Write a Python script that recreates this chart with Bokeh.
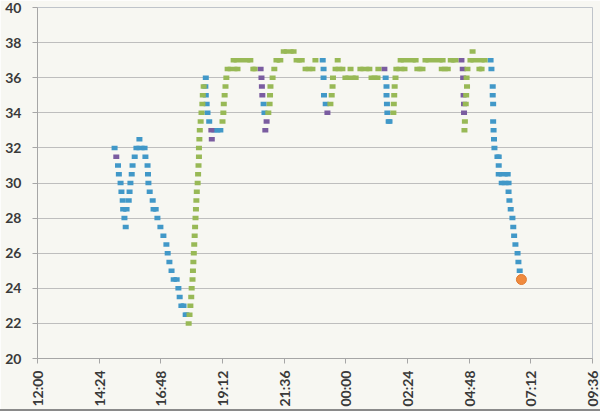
import math
from bokeh.plotting import figure
from bokeh.models import Range1d, FixedTicker, ColumnDataSource
from bokeh.embed import file_html
from bokeh.resources import INLINE

# ---------------- data ----------------
y_ticks = [20, 22, 24, 26, 28, 30, 32, 34, 36, 38, 40]
x_tick_labels = ["12:00", "14:24", "16:48", "19:12", "21:36",
                 "00:00", "02:24", "04:48", "07:12", "09:36"]

# blue series: readings (a run = same value from start to end)
blue_start = ["15:00", "15:08", "15:10", "15:14", "15:16", "15:19", "15:20", "15:23", "15:26",
              "15:33", "15:35", "15:37", "15:40", "15:42", "15:47", "15:51", "15:58",
              "16:12", "16:17", "16:18", "16:19", "16:22", "16:29", "16:31", "16:40", "16:47",
              "16:54", "17:01", "17:04", "17:08", "17:13", "17:18", "17:29", "17:32", "17:36",
              "17:46",
              "18:33", "18:32", "18:33", "18:35", "18:37", "18:41", "18:53",
              "20:48", "20:50",
              "23:06", "23:08", "23:08", "23:09", "23:13",
              "01:33", "01:35", "01:35", "01:36", "01:37", "01:40",
              "05:38", "05:40", "05:43", "05:43", "05:44", "05:44", "05:45", "05:46", "05:47",
              "05:54", "05:57", "05:57", "06:04", "06:20", "06:22", "06:25", "06:29", "06:31",
              "06:33", "06:36", "06:41", "06:43", "06:46"]
blue_end = ["15:00", "15:08", "15:10", "15:14", "15:16", "15:19", "15:28", "15:23", "15:26",
            "15:33", "15:35", "15:37", "15:40", "15:42", "15:47", "16:10", "15:58",
            "16:12", "16:17", "16:18", "16:19", "16:22", "16:29", "16:36", "16:40", "16:47",
            "16:54", "17:01", "17:04", "17:08", "17:13", "17:25", "17:29", "17:32", "17:41",
            "17:48",
            "18:33", "18:32", "18:33", "18:35", "18:37", "18:41", "19:07",
            "20:48", "20:50",
            "23:06", "23:08", "23:08", "23:09", "23:13",
            "01:33", "01:35", "01:35", "01:36", "01:37", "01:42",
            "05:38", "05:40", "05:43", "05:43", "05:44", "05:44", "05:45", "05:46", "05:47",
            "05:57", "05:57", "06:18", "06:20", "06:20", "06:22", "06:25", "06:29", "06:31",
            "06:33", "06:36", "06:41", "06:43", "06:46"]
blue_temp = [32.0, 31.0, 30.5, 30.0, 29.5, 29.0, 28.5, 28.0, 27.5,
             29.0, 29.5, 30.0, 30.5, 31.0, 31.5, 32.0, 32.5,
             31.5, 31.0, 30.5, 30.0, 29.5, 29.0, 28.5, 28.0, 27.5,
             27.0, 26.5, 26.0, 25.5, 25.0, 24.5, 24.0, 23.5, 23.0,
             22.5,
             36.0, 35.5, 35.0, 34.5, 34.0, 33.5, 33.0,
             34.5, 34.0,
             37.0, 36.5, 36.0, 35.0, 34.5,
             36.0, 35.5, 35.0, 34.5, 34.0, 33.5,
             37.0, 36.5, 35.5, 35.0, 34.5, 33.5, 33.0, 32.5, 32.0,
             31.5, 31.0, 30.5, 30.0, 29.5, 29.0, 28.5, 28.0, 27.5,
             27.0, 26.5, 26.0, 25.5, 25.0]

# purple series: single readings
purple_time = ["15:04", "18:46", "18:47", "20:41", "20:43", "20:44", "20:45", "20:52", "20:55",
               "23:17", "01:30", "04:30", "04:33", "04:34", "04:35", "04:36", "04:36"]
purple_temp = [31.5, 33.0, 32.5, 36.5, 36.0, 35.5, 35.0, 33.0, 33.5,
               34.0, 36.5, 37.0, 36.5, 36.0, 35.0, 34.5, 34.0]

# green series
green_start = ["17:53", "17:55", "17:57", "17:59", "18:00", "18:02", "18:03", "18:04", "18:05",
               "18:06", "18:07", "18:08", "18:09", "18:10", "18:11", "18:12", "18:14", "18:15",
               "18:16", "18:17", "18:17", "18:18", "18:19", "18:21", "18:23", "18:25", "18:26",
               "18:28",
               "19:12", "19:14", "19:15", "19:17", "19:19", "19:21",
               "19:24", "19:38", "20:24",
               "20:59", "21:02", "21:03", "21:04", "21:09", "21:13",
               "21:18", "21:35", "22:05", "22:26", "22:49",
               "23:24", "23:27", "23:29", "23:30",
               "23:36", "23:41", "00:11", "23:59", "00:34", "01:00", "01:16",
               "01:51", "01:52", "01:53", "01:54", "01:56",
               "01:58", "02:08", "02:47", "03:06", "03:44", "04:05",
               "04:37", "04:38", "04:40", "04:41", "04:42", "04:43", "04:44",
               "04:51", "04:56", "05:12"]
green_end = ["17:53", "17:55", "17:57", "17:59", "18:00", "18:02", "18:03", "18:04", "18:05",
             "18:06", "18:07", "18:08", "18:09", "18:10", "18:11", "18:12", "18:14", "18:15",
             "18:16", "18:17", "18:17", "18:18", "18:19", "18:21", "18:23", "18:25", "18:26",
             "18:28",
             "19:12", "19:14", "19:15", "19:17", "19:19", "19:21",
             "19:47", "20:17", "20:27",
             "20:59", "21:02", "21:03", "21:04", "21:09", "21:13",
             "21:27", "21:58", "22:17", "22:42", "22:49",
             "23:24", "23:27", "23:29", "23:30",
             "23:52", "23:41", "00:11", "00:23", "00:55", "01:14", "01:16",
             "01:51", "01:52", "01:53", "01:54", "01:56",
             "02:17", "02:43", "02:59", "03:46", "03:58", "04:16",
             "04:37", "04:38", "04:40", "04:41", "04:42", "04:43", "04:44",
             "05:24", "04:56", "05:17"]
green_temp = [22.0, 22.5, 23.0, 23.5, 24.0, 24.5, 25.0, 25.5, 26.0,
              26.5, 27.0, 27.5, 28.0, 28.5, 29.0, 29.5, 30.0, 30.5,
              31.0, 31.5, 32.0, 32.5, 33.0, 33.5, 34.0, 34.5, 35.0,
              35.5,
              33.5, 34.0, 34.5, 35.0, 35.5, 36.0,
              36.5, 37.0, 36.5,
              34.0, 34.5, 35.0, 35.5, 36.0, 36.5,
              37.0, 37.5, 37.0, 36.5, 37.0,
              34.5, 35.0, 35.5, 36.0,
              36.5, 37.0, 36.5, 36.0, 36.5, 36.0, 36.5,
              34.0, 34.5, 35.0, 35.5, 36.0,
              36.5, 37.0, 36.5, 37.0, 36.5, 37.0,
              33.0, 33.5, 34.5, 35.0, 36.0, 35.5, 36.5,
              37.0, 37.5, 36.5]

# orange: last reading
orange_time = ["06:50"]
orange_temp = [24.5]

# ---------------- helpers ----------------
def minutes(s):
    h, m = map(int, s.split(":"))
    t = (h - 12) * 60 + m
    if t < 0:
        t += 1440
    return t

x_ticks = [minutes(s) for s in x_tick_labels]

BG = "#F7F7F2"
FONT = "Lato"

p = figure(width=600, height=411, output_backend="svg", toolbar_location=None,
           x_range=Range1d(x_ticks[0], x_ticks[-1]), y_range=Range1d(y_ticks[0], y_ticks[-1]),
           min_border_left=37, min_border_right=8, min_border_top=7, min_border_bottom=53,
           background_fill_color=BG, border_fill_color=BG,
           styles={"position": "absolute", "left": "0px", "top": "0px",
                   "border-bottom": "2px solid #8a8a8a"})

p.outline_line_color = "#BFC4CA"
p.outline_line_width = 1

p.xgrid.visible = False
p.ygrid.grid_line_color = "#BEBEBE"
p.ygrid.grid_line_width = 1

p.yaxis.ticker = FixedTicker(ticks=y_ticks)
p.xaxis.ticker = FixedTicker(ticks=x_ticks)
p.xaxis.major_label_overrides = {t: l for t, l in zip(x_ticks, x_tick_labels)}
p.xaxis.major_label_orientation = math.pi / 2

for ax in (p.xaxis, p.yaxis):
    ax.axis_line_color = "#A6A6A6"
    ax.major_tick_line_color = "#A6A6A6"
    ax.major_tick_out = 5
    ax.major_tick_in = 0
    ax.minor_tick_line_color = None
    ax.major_label_text_font = FONT
    ax.major_label_text_font_style = "bold"
    ax.major_label_text_font_size = "14px"
    ax.major_label_text_color = "#3A3A3A"
p.yaxis.major_label_standoff = 11
p.xaxis.major_label_standoff = 7

MW, MH = 6, 4.5

def draw(starts, ends, temps, color):
    xs0 = [minutes(s) for s in starts]
    xs1 = [minutes(s) for s in ends]
    runs = [(a, b, v) for a, b, v in zip(xs0, xs1, temps) if b != a]
    if runs:
        p.segment(x0=[r[0] for r in runs], y0=[r[2] for r in runs],
                  x1=[r[1] for r in runs], y1=[r[2] for r in runs],
                  line_color=color, line_width=MH, line_cap="butt")
    px = xs0 + [r[1] for r in runs]
    py = list(temps) + [r[2] for r in runs]
    p.rect(x=px, y=py, width=MW, height=MH, width_units="screen", height_units="screen",
           fill_color=color, line_color=None)

draw(blue_start, blue_end, blue_temp, "#4198C8")
draw(purple_time, purple_time, purple_temp, "#7A5CA0")
draw(green_start, green_end, green_temp, "#98B956")

p.scatter(x=[minutes(s) for s in orange_time], y=orange_temp, size=10,
          fill_color="#F08A3E", line_color="#E07A30", line_width=1)

open("out.html", "w").write(file_html(p, INLINE))
